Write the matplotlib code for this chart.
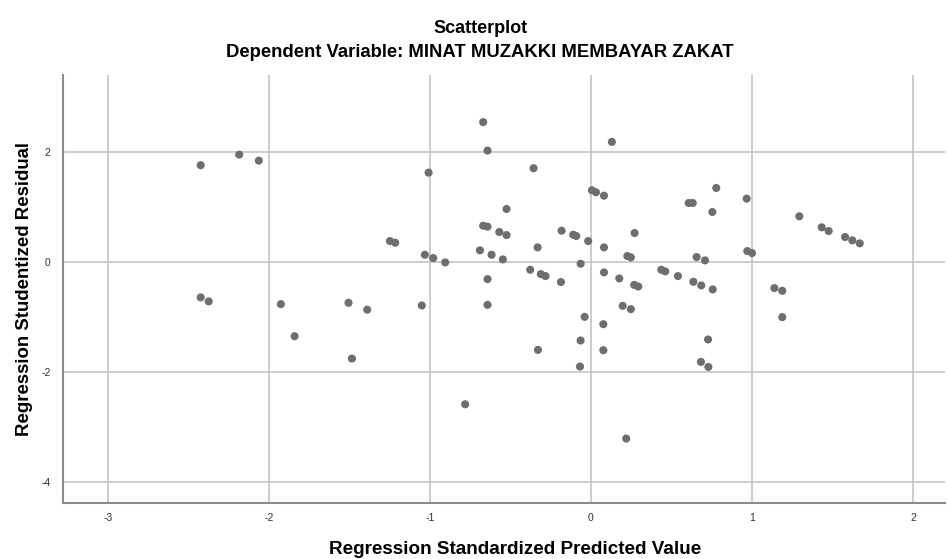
import matplotlib.pyplot as plt

plt.rcParams['font.family'] = ['Liberation Sans', 'DejaVu Sans']
plt.rcParams['axes.unicode_minus'] = False

# standardized predicted value (x) and studentized residual (y)
pred = [-2.423, -2.184, -2.062, -2.423, -2.373, -1.925, -1.505, -1.840, -1.484,
        -0.669, -0.642, -1.008, -0.356, 0.130, 0.006, 0.031, 0.081, -0.524,
        -0.669, -0.642, -0.569, -0.524, -1.248, -1.215, -1.031, -0.979, -0.905,
        -0.689, -0.617, -0.547, -0.642, -0.331, -0.377, -0.311, -0.282, -0.186,
        -0.182, -0.110, -0.091, -0.017, -0.064, 0.081, 0.081, 0.176, 0.226,
        0.248, 0.271, 0.269, 0.294, -1.389, -1.050, -0.642, 0.197, 0.248,
        -0.781, -0.329, -0.064, -0.039, -0.068, 0.077, 0.077, 0.219,
        0.778, 0.607, 0.632, 0.754, 0.967, 1.294, 1.433, 1.476, 1.578, 1.623,
        1.669, 0.656, 0.708, 0.971, 1.000, 0.437, 0.461, 0.540, 0.636, 0.685,
        0.756, 1.139, 1.188, 1.188, 0.727, 0.683, 0.729]
resid = [1.753, 1.945, 1.836, -0.647, -0.720, -0.769, -0.745, -1.351, -1.757,
         2.535, 2.018, 1.618, 1.698, 2.176, 1.298, 1.262, 1.200, 0.958,
         0.655, 0.637, 0.540, 0.485, 0.376, 0.345, 0.127, 0.067, -0.012,
         0.207, 0.127, 0.043, -0.315, 0.261, -0.145, -0.224, -0.260, -0.369,
         0.564, 0.491, 0.467, 0.376, -0.036, 0.261, -0.193, -0.303, 0.104,
         0.080, 0.522, -0.420, -0.449, -0.870, -0.793, -0.782, -0.800, -0.860,
         -2.587, -1.600, -1.430, -1.000, -1.902, -1.133, -1.605, -3.210,
         1.340, 1.067, 1.067, 0.904, 1.146, 0.825, 0.625, 0.558, 0.449, 0.389,
         0.334, 0.085, 0.025, 0.194, 0.158, -0.145, -0.175, -0.260, -0.363, -0.430,
         -0.502, -0.478, -0.527, -1.005, -1.411, -1.818, -1.909]

xticks = [-3, -2, -1, 0, 1, 2]
yticks = [-4, -2, 0, 2]

fig = plt.figure(figsize=(9.47, 5.59), dpi=100)
ax = fig.add_axes([0.0665, 0.1001, 0.9315, 0.7657])

ax.scatter(pred, resid, s=34, color='#6e6e6e', edgecolors='none', zorder=3)

ax.set_xlim(-3.278, 2.199)
ax.set_ylim(-4.38, 3.39)
ax.set_xticks(xticks)
ax.set_yticks(yticks)
ax.grid(True, color='#c4c4c4', linewidth=1.2)
ax.set_axisbelow(True)

for s in ['top', 'right']:
    ax.spines[s].set_visible(False)
for s in ['left', 'bottom']:
    ax.spines[s].set_color('#8c8c8c')
    ax.spines[s].set_linewidth(1.5)
ax.tick_params(length=0, labelsize=7.5, colors='#333333')
ax.tick_params(axis='x', pad=7)
ax.tick_params(axis='y', pad=9)

# labels placed in figure coords
fig.text(0.507, 1 - 32.7 / 559, 'Scatterplot', ha='center', va='baseline',
         fontsize=13, fontweight='bold')
fig.text(0.507, 1 - 57.3 / 559, 'Dependent Variable: MINAT MUZAKKI MEMBAYAR ZAKAT',
         ha='center', va='baseline', fontsize=13.3, fontweight='bold')
fig.text(0.544, 1 - 554 / 559, 'Regression Standardized Predicted Value',
         ha='center', va='baseline', fontsize=13.6, fontweight='bold')
fig.text(25 / 947, 0.483, 'Regression Studentized Residual', rotation=90,
         ha='center', va='center', fontsize=13.4, fontweight='bold')

fig.savefig('out.png', dpi=100)
